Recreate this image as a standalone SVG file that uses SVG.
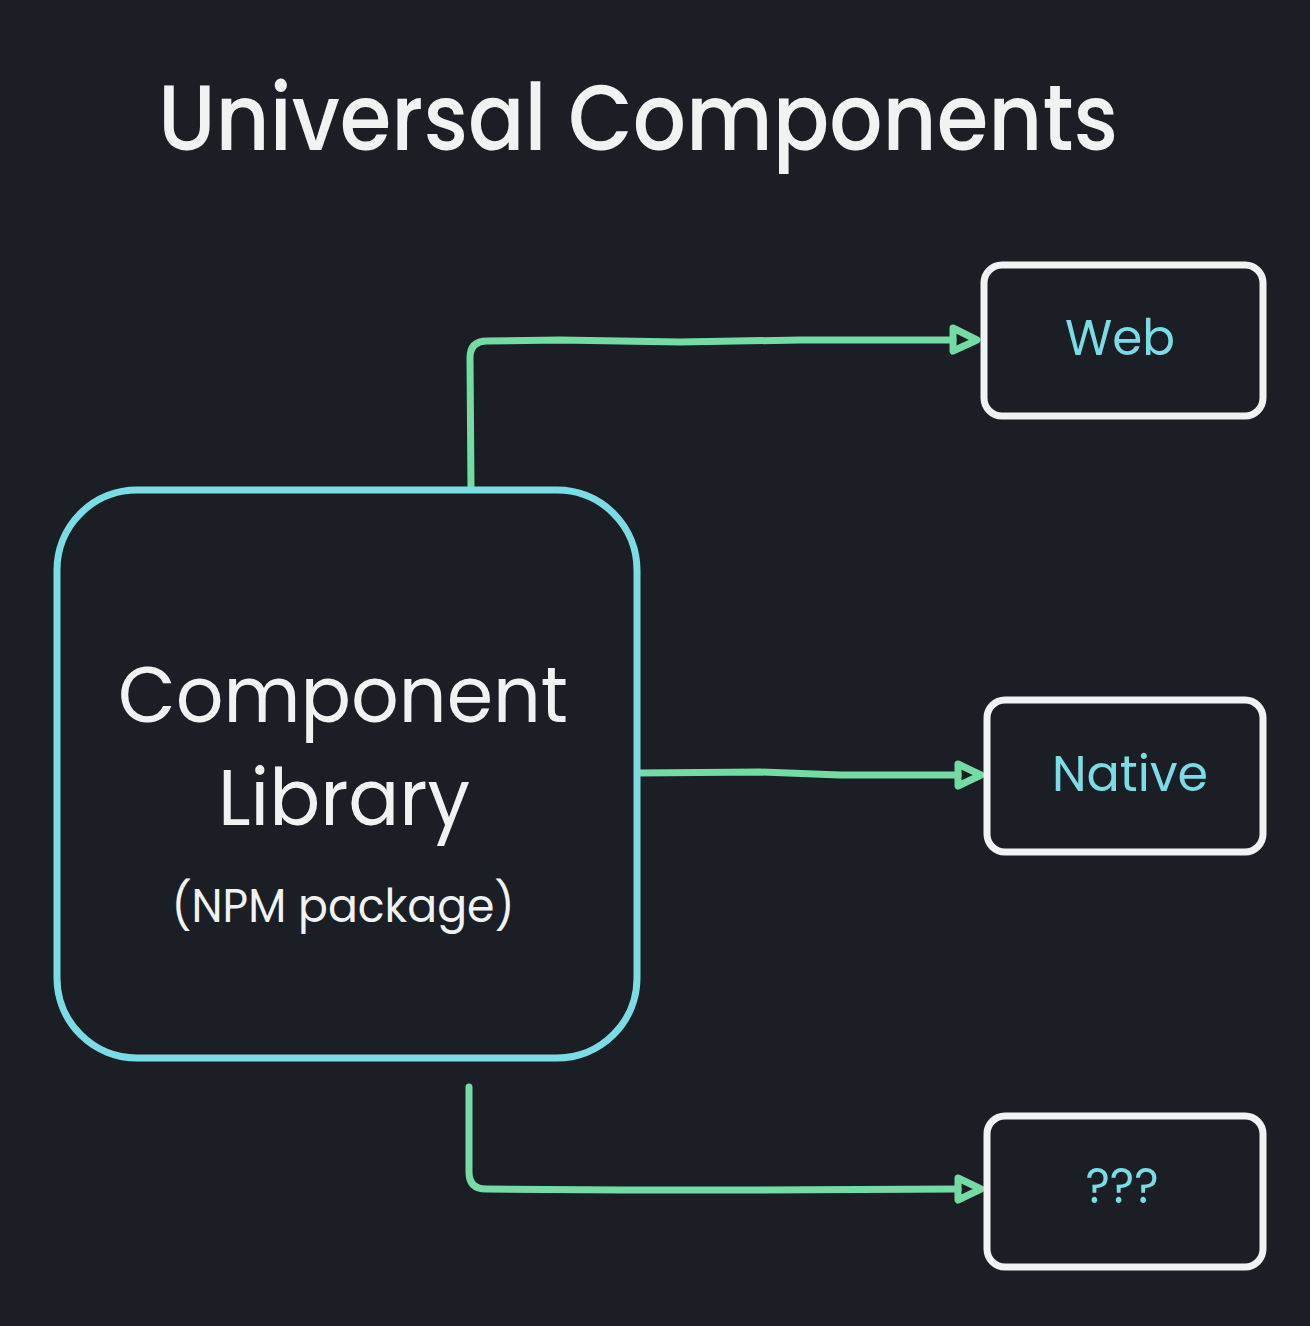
<svg xmlns="http://www.w3.org/2000/svg" width="1310" height="1326" viewBox="0 0 1310 1326">
<style>
.bg{fill:#1b1e25}
.title{font-family:Poppins,"Inter","Noto Sans","Liberation Sans",sans-serif;font-weight:500;fill:#f1f3f3}
.lib{font-family:Poppins,"Inter","Noto Sans","Liberation Sans",sans-serif;fill:#f1f3f3}
.lbl{font-family:Poppins,"Inter","Noto Sans","Liberation Sans",sans-serif;fill:#7adde6}
.box{fill:none;stroke:#f1f3f3;stroke-width:7;stroke-linejoin:round}
.main{fill:none;stroke:#7adde6;stroke-width:7}
.conn{fill:none;stroke:#74dba4;stroke-width:7;stroke-linecap:round;stroke-linejoin:round}
.head{fill:none;stroke:#74dba4;stroke-width:7;stroke-linejoin:round}
</style>
<rect class="bg" x="0" y="0" width="1310" height="1326"/>
<text class="title" x="638" y="150" font-size="92" text-anchor="middle" textLength="960" lengthAdjust="spacingAndGlyphs">Universal Components</text>

<g id="connectors">
<path class="conn" d="M471 489 L470 358 Q470 341 487 341 L560 340 L680 342 L800 340 L953 340"/>
<polygon class="head" points="953,328 977,340 953,351"/>
<path class="conn" d="M638 773 L760 772 L840 775 L958 775"/>
<polygon class="head" points="958,764 981,775 958,786"/>
<path class="conn" d="M469 1087 L469 1172 Q469 1189 486 1189 L620 1190 L760 1190 L958 1189"/>
<polygon class="head" points="958,1178 981,1189 958,1200"/>
</g>

<g id="library">
<rect class="main" x="57" y="490" width="580" height="568" rx="80" ry="80"/>
<text class="lib" x="343" y="722" font-size="78" text-anchor="middle" textLength="450" lengthAdjust="spacingAndGlyphs">Component</text>
<text class="lib" x="344" y="825" font-size="78" text-anchor="middle" textLength="252" lengthAdjust="spacingAndGlyphs">Library</text>
<text class="lib" x="343" y="922" font-size="46" text-anchor="middle" textLength="343" lengthAdjust="spacingAndGlyphs">(NPM package)</text>
</g>

<g id="web">
<rect class="box" x="984" y="265" width="279" height="151" rx="18" ry="18"/>
<text class="lbl" x="1120" y="355" font-size="50" text-anchor="middle" textLength="110" lengthAdjust="spacingAndGlyphs">Web</text>
</g>

<g id="native">
<rect class="box" x="987" y="700" width="276" height="152" rx="18" ry="18"/>
<text class="lbl" x="1130" y="791" font-size="50" text-anchor="middle" textLength="156" lengthAdjust="spacingAndGlyphs">Native</text>
</g>

<g id="unknown">
<rect class="box" x="987" y="1116" width="276" height="151" rx="18" ry="18"/>
<text class="lbl" x="1122" y="1203" font-size="50" text-anchor="middle" textLength="73" lengthAdjust="spacingAndGlyphs">???</text>
</g>
</svg>
